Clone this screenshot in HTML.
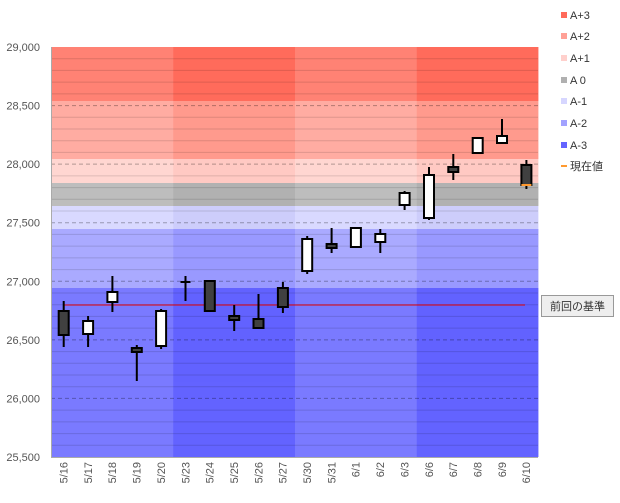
<!DOCTYPE html>
<html><head><meta charset="utf-8"><style>
body{margin:0;background:#fff;width:620px;height:498px;overflow:hidden}
text{font-family:"Liberation Sans","Noto Sans CJK JP",sans-serif}
</style></head><body>
<svg width="620" height="498" xmlns="http://www.w3.org/2000/svg">
<!-- bands light weeks -->
<g>
<rect x="51.5" y="47" width="487" height="54" fill="#ff8274"/>
<rect x="51.5" y="101" width="487" height="58" fill="#ffaca2"/>
<rect x="51.5" y="159" width="487" height="24" fill="#ffd6d1"/>
<rect x="51.5" y="183" width="487" height="23" fill="#bdbdbd"/>
<rect x="51.5" y="206" width="487" height="23" fill="#d9d9ff"/>
<rect x="51.5" y="229" width="487" height="59" fill="#aaaaff"/>
<rect x="51.5" y="288" width="487" height="169" fill="#7a7aff"/>
</g>
<g opacity="0.55">
<rect x="173.25" y="47" width="121.75" height="54" fill="#ff5a48"/>
<rect x="173.25" y="101" width="121.75" height="58" fill="#ff8c7c"/>
<rect x="173.25" y="159" width="121.75" height="24" fill="#ffc0b8"/>
<rect x="173.25" y="183" width="121.75" height="23" fill="#a8a8a8"/>
<rect x="173.25" y="206" width="121.75" height="23" fill="#c4c4f8"/>
<rect x="173.25" y="229" width="121.75" height="59" fill="#8c8cff"/>
<rect x="173.25" y="288" width="121.75" height="169" fill="#5050ff"/>
<rect x="416.75" y="47" width="121.25" height="54" fill="#ff5a48"/>
<rect x="416.75" y="101" width="121.25" height="58" fill="#ff8c7c"/>
<rect x="416.75" y="159" width="121.25" height="24" fill="#ffc0b8"/>
<rect x="416.75" y="183" width="121.25" height="23" fill="#a8a8a8"/>
<rect x="416.75" y="206" width="121.25" height="23" fill="#c4c4f8"/>
<rect x="416.75" y="229" width="121.25" height="59" fill="#8c8cff"/>
<rect x="416.75" y="288" width="121.25" height="169" fill="#5050ff"/>
</g>
<!-- minor gridlines -->
<g stroke="rgba(0,0,0,0.13)" stroke-width="1">
<line x1="51" x2="538" y1="58.7" y2="58.7"/><line x1="51" x2="538" y1="70.4" y2="70.4"/><line x1="51" x2="538" y1="82.1" y2="82.1"/><line x1="51" x2="538" y1="93.9" y2="93.9"/>
<line x1="51" x2="538" y1="117.3" y2="117.3"/><line x1="51" x2="538" y1="129" y2="129"/><line x1="51" x2="538" y1="140.7" y2="140.7"/><line x1="51" x2="538" y1="152.4" y2="152.4"/>
<line x1="51" x2="538" y1="175.9" y2="175.9"/><line x1="51" x2="538" y1="187.6" y2="187.6"/><line x1="51" x2="538" y1="199.3" y2="199.3"/><line x1="51" x2="538" y1="211" y2="211"/>
<line x1="51" x2="538" y1="234.4" y2="234.4"/><line x1="51" x2="538" y1="246.1" y2="246.1"/><line x1="51" x2="538" y1="257.9" y2="257.9"/><line x1="51" x2="538" y1="269.6" y2="269.6"/>
<line x1="51" x2="538" y1="293" y2="293"/><line x1="51" x2="538" y1="304.7" y2="304.7"/><line x1="51" x2="538" y1="316.4" y2="316.4"/><line x1="51" x2="538" y1="328.1" y2="328.1"/>
<line x1="51" x2="538" y1="351.6" y2="351.6"/><line x1="51" x2="538" y1="363.3" y2="363.3"/><line x1="51" x2="538" y1="375" y2="375"/><line x1="51" x2="538" y1="386.7" y2="386.7"/>
<line x1="51" x2="538" y1="410.1" y2="410.1"/><line x1="51" x2="538" y1="421.9" y2="421.9"/><line x1="51" x2="538" y1="433.6" y2="433.6"/><line x1="51" x2="538" y1="445.3" y2="445.3"/>
</g>
<g stroke="rgba(0,0,0,0.3)" stroke-width="1" stroke-dasharray="4,3">
<line x1="51" x2="538" y1="105.6" y2="105.6"/><line x1="51" x2="538" y1="164.1" y2="164.1"/><line x1="51" x2="538" y1="222.7" y2="222.7"/><line x1="51" x2="538" y1="281.3" y2="281.3"/><line x1="51" x2="538" y1="339.9" y2="339.9"/><line x1="51" x2="538" y1="398.4" y2="398.4"/>
</g>
<!-- axes -->
<line x1="51.5" y1="47" x2="51.5" y2="457" stroke="#aaa"/>
<line x1="51" y1="457.5" x2="538" y2="457.5" stroke="#aaa"/>
<g font-size="11" fill="#555" text-anchor="end">
<text x="40" y="51">29,000</text><text x="40" y="109.6">28,500</text><text x="40" y="168.1">28,000</text><text x="40" y="226.7">27,500</text><text x="40" y="285.3">27,000</text><text x="40" y="343.9">26,500</text><text x="40" y="402.4">26,000</text><text x="40" y="461">25,500</text>
</g>
<!-- red line -->
<line x1="64" y1="305" x2="525" y2="305" stroke="#e00000" stroke-width="1"/>
<!-- candles -->
<g stroke="#000" stroke-width="2">
<line x1="63.7" y1="301" x2="63.7" y2="347"/><rect x="58.7" y="311" width="10" height="24" fill="#404040"/>
<line x1="88.1" y1="316" x2="88.1" y2="347"/><rect x="83.1" y="321" width="10" height="13" fill="#fff"/>
<line x1="112.4" y1="276" x2="112.4" y2="312"/><rect x="107.4" y="292" width="10" height="10" fill="#fff"/>
<line x1="136.8" y1="345" x2="136.8" y2="381"/><rect x="131.8" y="348" width="10" height="4" fill="#404040"/>
<line x1="161.1" y1="309" x2="161.1" y2="349"/><rect x="156.1" y="311" width="10" height="35" fill="#fff"/>
<line x1="185.5" y1="276" x2="185.5" y2="301"/><line x1="180.5" y1="282" x2="190.5" y2="282"/>
<line x1="209.8" y1="281" x2="209.8" y2="312"/><rect x="204.8" y="281" width="10" height="30" fill="#404040"/>
<line x1="234.2" y1="305" x2="234.2" y2="331"/><rect x="229.2" y="316" width="10" height="4" fill="#404040"/>
<line x1="258.5" y1="294" x2="258.5" y2="328"/><rect x="253.5" y="319" width="10" height="9" fill="#404040"/>
<line x1="282.9" y1="282" x2="282.9" y2="313"/><rect x="277.9" y="288" width="10" height="19" fill="#404040"/>
<line x1="307.2" y1="236" x2="307.2" y2="274"/><rect x="302.2" y="239" width="10" height="32" fill="#fff"/>
<line x1="331.6" y1="228" x2="331.6" y2="253"/><rect x="326.6" y="244" width="10" height="4" fill="#404040"/>
<line x1="355.9" y1="227" x2="355.9" y2="247"/><rect x="350.9" y="228" width="10" height="19" fill="#fff"/>
<line x1="380.3" y1="229" x2="380.3" y2="253"/><rect x="375.3" y="234" width="10" height="8" fill="#fff"/>
<line x1="404.6" y1="191" x2="404.6" y2="210"/><rect x="399.6" y="193" width="10" height="12" fill="#fff"/>
<line x1="429" y1="167" x2="429" y2="220"/><rect x="424" y="175" width="10" height="43" fill="#fff"/>
<line x1="453.3" y1="154" x2="453.3" y2="180"/><rect x="448.3" y="167" width="10" height="5" fill="#404040"/>
<line x1="477.7" y1="138" x2="477.7" y2="154"/><rect x="472.7" y="138" width="10" height="15" fill="#fff"/>
<line x1="502" y1="119" x2="502" y2="143"/><rect x="497" y="136" width="10" height="7" fill="#fff"/>
<line x1="526.4" y1="160" x2="526.4" y2="189"/><rect x="521.4" y="165" width="10" height="20" fill="#404040"/>
</g>
<line x1="521.4" y1="185" x2="531.4" y2="185" stroke="#ff9a30" stroke-width="2"/>
<!-- x labels -->
<g font-size="11" fill="#555" text-anchor="end">
<text transform="translate(67.5,462) rotate(-90)">5/16</text>
<text transform="translate(91.9,462) rotate(-90)">5/17</text>
<text transform="translate(116.2,462) rotate(-90)">5/18</text>
<text transform="translate(140.6,462) rotate(-90)">5/19</text>
<text transform="translate(164.9,462) rotate(-90)">5/20</text>
<text transform="translate(189.3,462) rotate(-90)">5/23</text>
<text transform="translate(213.6,462) rotate(-90)">5/24</text>
<text transform="translate(238,462) rotate(-90)">5/25</text>
<text transform="translate(262.3,462) rotate(-90)">5/26</text>
<text transform="translate(286.7,462) rotate(-90)">5/27</text>
<text transform="translate(311,462) rotate(-90)">5/30</text>
<text transform="translate(335.4,462) rotate(-90)">5/31</text>
<text transform="translate(359.7,462) rotate(-90)">6/1</text>
<text transform="translate(384.1,462) rotate(-90)">6/2</text>
<text transform="translate(408.4,462) rotate(-90)">6/3</text>
<text transform="translate(432.8,462) rotate(-90)">6/6</text>
<text transform="translate(457.1,462) rotate(-90)">6/7</text>
<text transform="translate(481.5,462) rotate(-90)">6/8</text>
<text transform="translate(505.8,462) rotate(-90)">6/9</text>
<text transform="translate(530.2,462) rotate(-90)">6/10</text>
</g>
<!-- legend -->
<g font-size="11" fill="#333">
<rect x="561" y="12" width="6" height="6" fill="#ff6a5a"/><text x="570" y="19">A+3</text>
<rect x="561" y="33" width="6" height="6" fill="#ffa096"/><text x="570" y="40">A+2</text>
<rect x="561" y="55" width="6" height="6" fill="#ffd0cc"/><text x="570" y="62">A+1</text>
<rect x="561" y="77" width="6" height="6" fill="#b0b0b0"/><text x="570" y="84">A 0</text>
<rect x="561" y="98" width="6" height="6" fill="#d6d6ff"/><text x="570" y="105">A-1</text>
<rect x="561" y="120" width="6" height="6" fill="#a2a2ff"/><text x="570" y="127">A-2</text>
<rect x="561" y="142" width="6" height="6" fill="#6464ff"/><text x="570" y="149">A-3</text>
<rect x="561" y="165" width="6" height="2" fill="#ff9a30"/><text x="570" y="170">現在値</text>
</g>
<!-- button -->
<rect x="541.5" y="295.5" width="72" height="21" fill="#eeeeee" stroke="#999"/>
<text x="577.5" y="310" font-size="11" fill="#333" text-anchor="middle">前回の基準</text>
</svg>
</body></html>
